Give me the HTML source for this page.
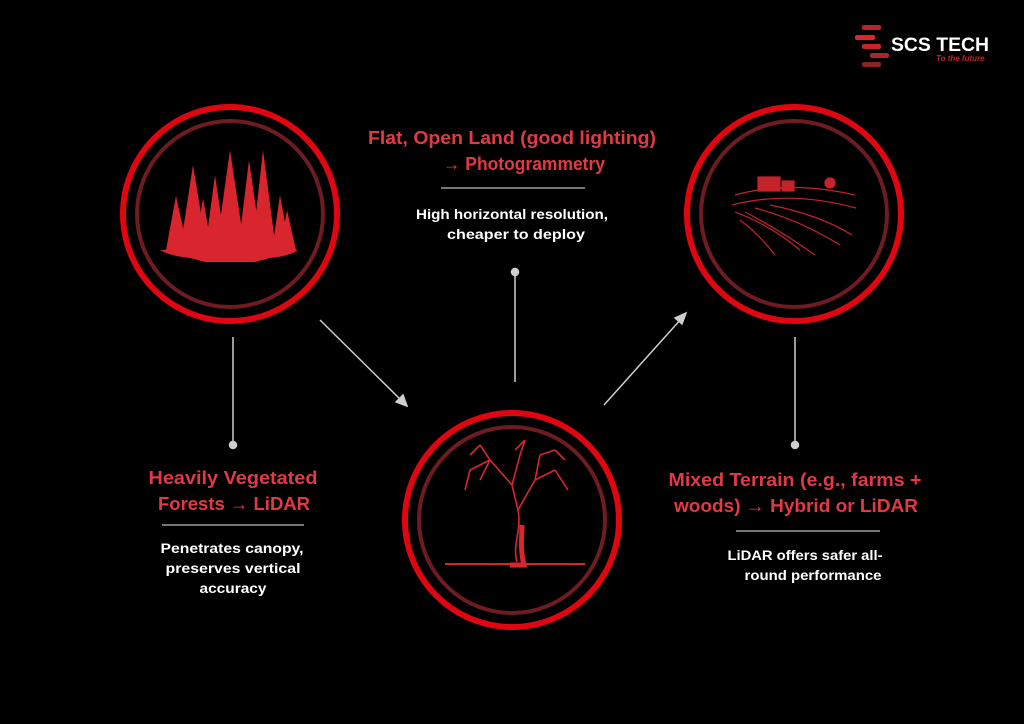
<!DOCTYPE html>
<html><head><meta charset="utf-8"><style>
html,body{margin:0;padding:0;background:#000;}
svg{display:block}
text{font-family:"Liberation Sans","DejaVu Sans",sans-serif;font-weight:bold}
</style></head><body>
<svg width="1024" height="724" viewBox="0 0 1024 724" xmlns="http://www.w3.org/2000/svg">
<rect width="1024" height="724" fill="#000"/>
<g>
<rect x="862" y="25" width="19" height="5" rx="2" fill="#b3262d"/>
<rect x="855" y="35" width="20" height="5" rx="2" fill="#e0242b"/>
<rect x="862" y="44" width="19" height="5" rx="2" fill="#c8242b"/>
<rect x="870" y="53" width="19" height="5" rx="2" fill="#a6262c"/>
<rect x="862" y="62" width="19" height="5" rx="2" fill="#8a2227"/>
<text x="891" y="51" fill="#fff" font-size="19" textLength="98" lengthAdjust="spacingAndGlyphs">SCS TECH</text>
<text x="936" y="61" fill="#c0242b" font-size="8" font-style="italic" font-weight="normal">To the future</text>
</g>
<g fill="none">
<circle cx="230" cy="214" r="107" stroke="#e0060f" stroke-width="6"/>
<circle cx="230" cy="214" r="93" stroke="#6e1c21" stroke-width="4"/>
<circle cx="794" cy="214" r="107" stroke="#e0060f" stroke-width="6"/>
<circle cx="794" cy="214" r="93" stroke="#6e1c21" stroke-width="4"/>
<circle cx="512" cy="520" r="107" stroke="#e0060f" stroke-width="6"/>
<circle cx="512" cy="520" r="93" stroke="#6e1c21" stroke-width="4"/>
</g>
<!-- forest -->
<g fill="#d9262e">
<polygon points="176,196 166,250 188,250"/>
<polygon points="193,165 180,250 207,250"/>
<polygon points="203,198 195,250 212,250"/>
<polygon points="215,175 205,250 226,250"/>
<polygon points="230,150 216,250 245,250"/>
<polygon points="249,160 238,250 262,250"/>
<polygon points="263,150 252,250 276,250"/>
<polygon points="280,195 272,250 290,250"/>
<polygon points="287,210 280,250 296,250"/>
<path d="M160,250 L298,250 Q290,256 270,258 L255,262 L205,262 L190,258 Q170,256 160,250 Z"/>
</g>
<!-- tree -->
<g stroke="#d9262e" fill="none" stroke-width="1.6">
<path d="M517,562 C512,545 522,530 518,510 L512,485 M518,510 L535,480 M512,485 L490,460 M512,485 L520,455 M535,480 L555,470 M535,480 L540,455 M490,460 L470,470 M490,460 L480,445 M520,455 L525,440 M540,455 L555,450 M555,470 L568,490 M470,470 L465,490 M480,445 L470,455 M525,440 L515,450 M555,450 L565,460 M490,460 L480,480"/>
<path d="M510,565 L524,565 C520,550 522,535 522,525" stroke-width="5"/>
<line x1="445" y1="564" x2="585" y2="564" stroke-width="2"/>
</g>
<!-- farm -->
<g stroke="#c4232a" fill="none" stroke-width="1.2">
<path d="M735,195 Q790,180 855,195 M732,205 Q790,190 856,208 M735,212 Q770,225 800,250 M745,212 Q780,230 815,255 M755,208 Q800,220 840,245 M770,205 Q820,215 852,235 M740,220 Q760,235 775,255"/>
<rect x="758" y="177" width="22" height="14" fill="#c4232a"/>
<rect x="782" y="181" width="12" height="10" fill="#c4232a"/>
<circle cx="830" cy="183" r="5" fill="#c4232a"/>
</g>
<g stroke="#cfcfcf" stroke-width="1.5" fill="#cfcfcf">
<line x1="233" y1="337" x2="233" y2="443"/><circle cx="233" cy="445" r="3.5"/>
<line x1="515" y1="382" x2="515" y2="275"/><circle cx="515" cy="272" r="3.5"/>
<line x1="795" y1="337" x2="795" y2="443"/><circle cx="795" cy="445" r="3.5"/>
<line x1="320" y1="320" x2="403" y2="402"/>
<path d="M407,406 L396,402 L403,395 Z"/>
<line x1="604" y1="405" x2="682" y2="318"/>
<path d="M686,313 L682,324 L675,318 Z"/>
</g>
<g text-anchor="middle" lengthAdjust="spacingAndGlyphs">
<text x="512" y="144" fill="#e23a42" font-size="18" textLength="288" lengthAdjust="spacingAndGlyphs">Flat, Open Land (good lighting)</text>
<text x="524" y="170" fill="#e23a42" font-size="18" textLength="162" lengthAdjust="spacingAndGlyphs">→ Photogrammetry</text>
<line x1="441" y1="188" x2="585" y2="188" stroke="#bbb" stroke-width="1.2"/>
<text x="512" y="219" fill="#fff" font-size="13.5" textLength="192" lengthAdjust="spacingAndGlyphs">High horizontal resolution,</text>
<text x="516" y="239" fill="#fff" font-size="13.5" textLength="138" lengthAdjust="spacingAndGlyphs">cheaper to deploy</text>

<text x="233" y="484" fill="#e23a42" font-size="18" textLength="169" lengthAdjust="spacingAndGlyphs">Heavily Vegetated</text>
<text x="234" y="510" fill="#e23a42" font-size="18" textLength="152" lengthAdjust="spacingAndGlyphs">Forests → LiDAR</text>
<line x1="162" y1="525" x2="304" y2="525" stroke="#bbb" stroke-width="1.2"/>
<text x="232" y="553" fill="#fff" font-size="13.5" textLength="143" lengthAdjust="spacingAndGlyphs">Penetrates canopy,</text>
<text x="233" y="573" fill="#fff" font-size="13.5" textLength="135" lengthAdjust="spacingAndGlyphs">preserves vertical</text>
<text x="233" y="593" fill="#fff" font-size="13.5" textLength="67" lengthAdjust="spacingAndGlyphs">accuracy</text>

<text x="795" y="486" fill="#e23a42" font-size="18" textLength="253" lengthAdjust="spacingAndGlyphs">Mixed Terrain (e.g., farms +</text>
<text x="796" y="512" fill="#e23a42" font-size="18" textLength="244" lengthAdjust="spacingAndGlyphs">woods) → Hybrid or LiDAR</text>
<line x1="736" y1="531" x2="880" y2="531" stroke="#bbb" stroke-width="1.2"/>
<text x="805" y="560" fill="#fff" font-size="13.5" textLength="155" lengthAdjust="spacingAndGlyphs">LiDAR offers safer all-</text>
<text x="813" y="580" fill="#fff" font-size="13.5" textLength="137" lengthAdjust="spacingAndGlyphs">round performance</text>
</g>
</svg>
</body></html>
